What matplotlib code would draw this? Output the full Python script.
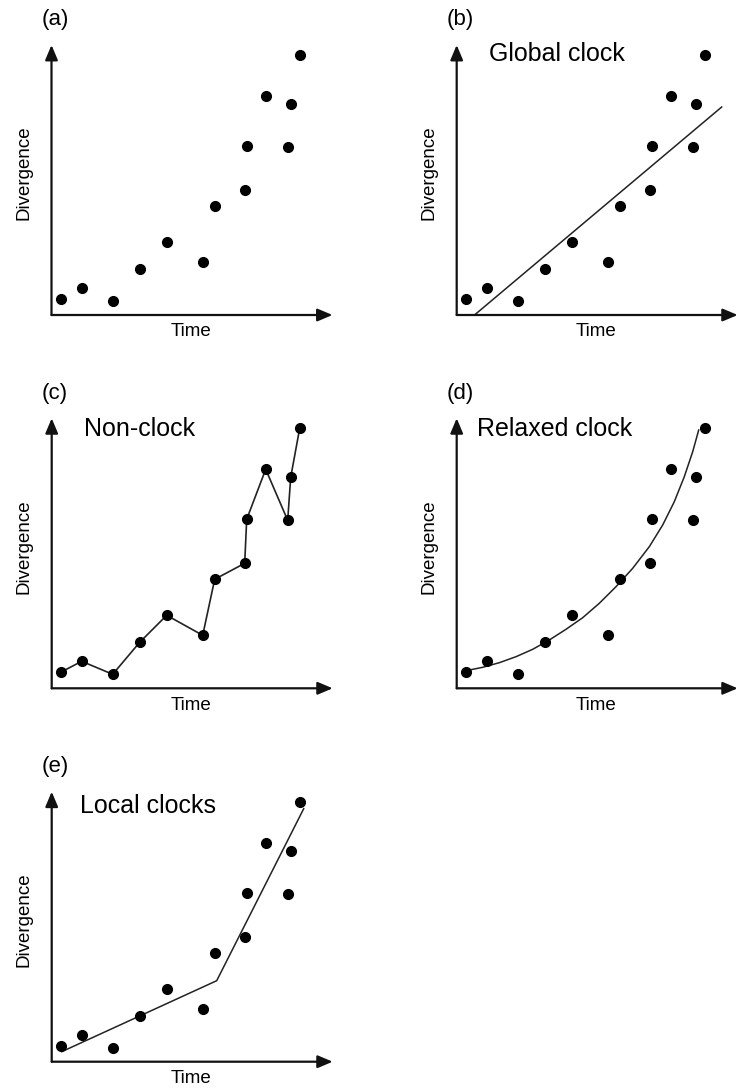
import matplotlib
matplotlib.use("Agg")
import matplotlib.pyplot as plt

plt.rcParams["font.family"] = ["Liberation Sans", "DejaVu Sans"]

# scatter data shared by all five panels (time, divergence)
time = [9, 30, 61, 88, 115, 151, 163, 193, 195, 214, 236, 239, 248]
divergence = [16, 27, 14, 46, 73, 53, 109, 125, 169, 219, 168, 211, 260]

# fitted lines
global_t = [19, 265]
global_d = [1, 208]
relaxed_t = [6, 9.3, 26, 42.6, 59.3, 76, 92.6, 109.3, 126, 142.6, 159.3, 176,
             192.6, 206, 217.6, 227.6, 236, 242]
relaxed_d = [17, 17.6, 21, 25.6, 31.6, 39, 48.3, 59, 70.6, 85, 101.6, 120,
             141.6, 163.3, 186.6, 211.6, 236.6, 258.3]
local_t = [10, 165, 252]
local_d = [10, 81, 253]

panels = ["(a)", "(b)", "(c)", "(d)", "(e)"]
titles = ["", "Global clock", "Non-clock", "Relaxed clock", "Local clocks"]
title_x = [0, 32, 32, 20, 28]
title_y = [0, 254, 252, 252, 249]
# panel origins in pixels (x from left, y from top)
origins = [(51.5, 315), (456.7, 315), (51.7, 688.3), (456.7, 688.3), (51.7, 1061.7)]

W, H = 738, 1092
fig = plt.figure(figsize=(W / 100, H / 100), dpi=100)

x0, x1, y0, y1 = -60, 290, -30, 290
for i, (ox, oy) in enumerate(origins):
    ax = fig.add_axes([(ox + x0) / W, (H - (oy - y0)) / H, (x1 - x0) / W, (y1 - y0) / H])
    ax.set_xlim(x0, x1)
    ax.set_ylim(y0, y1)
    ax.axis("off")

    arrow = dict(arrowstyle="-|>,head_length=0.9,head_width=0.38", color="#111111",
                 lw=1.6, shrinkA=0, shrinkB=0, mutation_scale=10)
    ax.annotate("", xy=(281, 0), xytext=(0, 0), arrowprops=arrow, annotation_clip=False)
    ax.annotate("", xy=(0, 270), xytext=(0, 0), arrowprops=arrow, annotation_clip=False)

    ax.plot(time, divergence, "o", color="black", ms=7, clip_on=False, zorder=3)
    if i == 1:
        ax.plot(global_t, global_d, color="#222222", lw=1.1, clip_on=False)
    elif i == 2:
        ax.plot(time, divergence, color="#222222", lw=1.2, clip_on=False)
    elif i == 3:
        ax.plot(relaxed_t, relaxed_d, color="#222222", lw=1.1, clip_on=False,
                solid_joinstyle="round")
    elif i == 4:
        ax.plot(local_t, local_d, color="#222222", lw=1.1, clip_on=False)

    ax.text(-10, 295, panels[i], fontsize=16, ha="left", va="center")
    if titles[i]:
        ax.text(title_x[i], title_y[i], titles[i], fontsize=18, ha="left", va="baseline")
    ax.text(-28, 142, "Divergence", fontsize=13.5, rotation=90, ha="center", va="center")
    ax.text(139, -17, "Time", fontsize=13.5, ha="center", va="center")

fig.savefig("out.png", dpi=100)
